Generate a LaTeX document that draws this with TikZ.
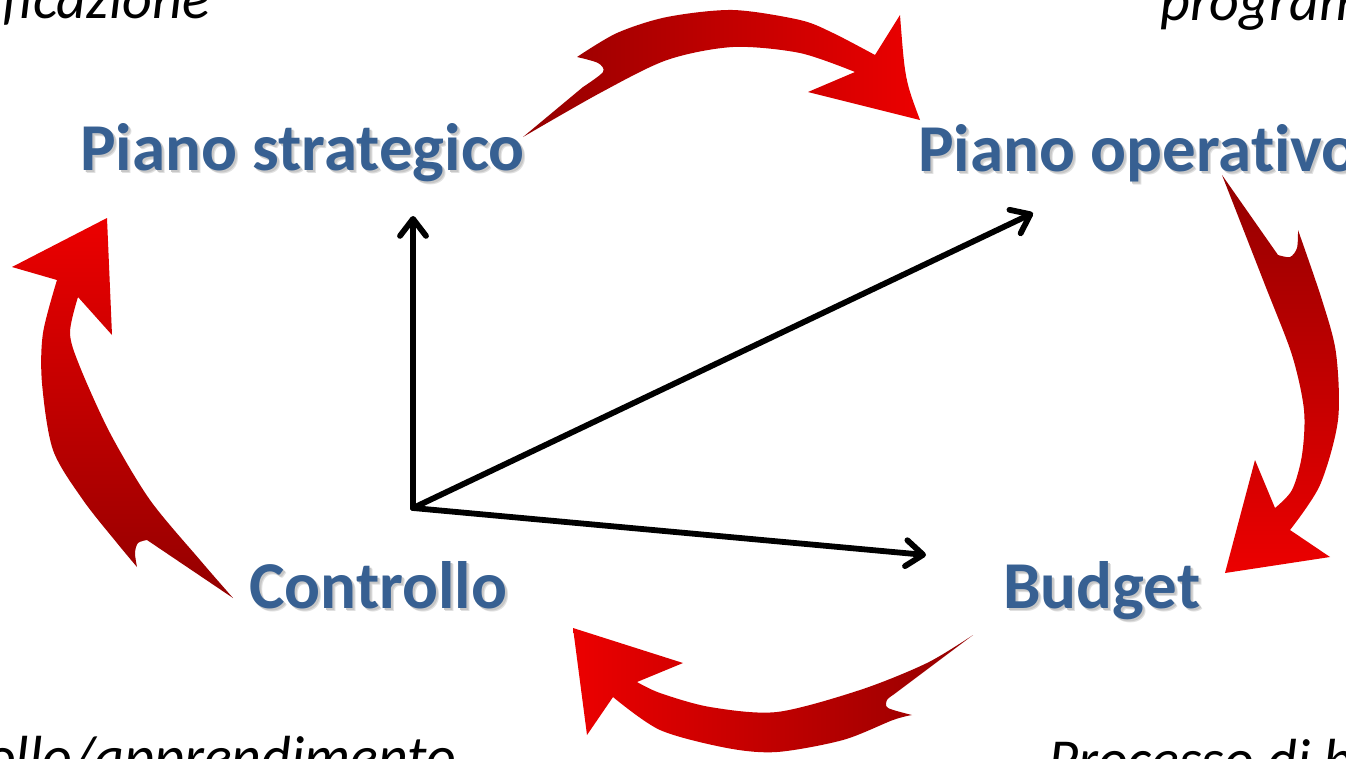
\documentclass[tikz,border=0pt]{standalone}
\usepackage{fontspec}
\setmainfont{Carlito}[Ligatures=CommonOff]
\usetikzlibrary{arrows.meta}
\definecolor{lblue}{RGB}{55,96,146}
\definecolor{rdark}{RGB}{148,0,0}
\definecolor{rbright}{RGB}{236,0,0}
\newcommand\shtext[1]{\rlap{\hspace{3pt}\raisebox{-3pt}{\textcolor{black!12}{#1}}}\rlap{\hspace{2pt}\raisebox{-2pt}{\textcolor{black!22}{#1}}}#1}
\tikzset{
  lbl/.style={font=\fontsize{67}{72}\selectfont\bfseries, text=lblue, inner sep=0pt, anchor=base west},
  note/.style={font=\fontsize{58}{64}\selectfont\itshape, text=black, inner sep=0pt, anchor=base west},
  axisarrow/.style={line width=5.8pt, line cap=round, draw=black,
    -{Straight Barb[length=17pt,width=26pt,line cap=round,line join=round]}},
  redarrow/.style={draw=none},
}
\begin{document}
\begin{tikzpicture}[x=1pt,y=-1pt]
\useasboundingbox (0,0) rectangle (1346,758);
\fill[white] (0,0) rectangle (1346,758);
\clip (0,0) rectangle (1346,758);

% cut-off notes
\node[note] (n1) at (2,18) {ficazione};
\node[note] (n2) at (1160,20) {program};
\node[note] (n3) at (-14,776) {ollo/apprendimento};
\node[note] (n4) at (1048,779) {Processo di b};

% red curved arrows
\shade[redarrow, left color=rdark, right color=rbright]
  (523,137) -- plot[smooth] coordinates {(523,137)(600,93)(667,60)(733,47)(800,53)(855,72)}
  -- (808,92) -- (920,120) .. controls (905,80) .. (900,15) -- (875,55)
  -- plot[smooth] coordinates {(875,55)(833,33)(800,20)(733,10)(667,17)(617,33)(577,57)}
  -- plot[smooth] coordinates {(577,57)(598,63)(603,72)(583,87)}
  -- cycle;

\shade[redarrow, top color=rdark, bottom color=rbright]
  (1222,175) -- plot[smooth] coordinates {(1222,175)(1265,285)(1292,355)(1304,410)(1302,455)(1292,490)(1275,508)}
  -- (1255,460) -- (1225,573) -- (1330,557) -- (1290,530)
  -- plot[smooth] coordinates {(1290,530)(1320,485)(1338,420)(1336,353)(1322,300)(1298,230)}
  -- plot[smooth] coordinates {(1298,230)(1297,248)(1290,257)(1278,255)}
  -- cycle;

\shade[redarrow, left color=rbright, right color=rdark]
  (973,635) -- plot[smooth] coordinates {(973,635)(927,663)(860,690)(777,712)(710,707)(660,693)(637,682)}
  -- (683,663) -- (573,628) -- (587,735) -- (613,697)
  -- plot[smooth] coordinates {(613,697)(660,730)(727,748)(777,752)(843,740)(893,720)(912,715)}
  -- plot[smooth] coordinates {(912,715)(888,708)(887,700)(893,695)}
  -- cycle;

\shade[redarrow, top color=rbright, bottom color=rdark]
  (233,598) -- plot[smooth] coordinates {(233,598)(200,560)(150,500)(110,433)(80,367)(70,333)(78,297)}
  -- (112,335) -- (107,218) -- (12,267) -- (57,280)
  -- plot[smooth] coordinates {(57,280)(43,333)(42,383)(53,450)(83,500)(117,543)(137,567)}
  -- plot[smooth] coordinates {(137,567)(135,553)(138,543)(147,540)}
  -- cycle;

% labels
\node[lbl] (ps) at (80,170) {\shtext{Piano strategico}};
\node[lbl] (po) at (918,171) {\shtext{Piano operativo}};
\node[lbl] (ct) at (249,608) {\shtext{Controllo}};
\node[lbl] (bg) at (1003,608) {\shtext{Budget}};

% black axes
\coordinate (o) at (413,508);
\coordinate (t1) at (413,216);
\coordinate (t2) at (1033,213);
\coordinate (t3) at (926,555);
\draw[axisarrow] (o) -- (t1);
\draw[axisarrow] (o) -- (t2);
\draw[axisarrow] (o) -- (t3);
\end{tikzpicture}
\end{document}
